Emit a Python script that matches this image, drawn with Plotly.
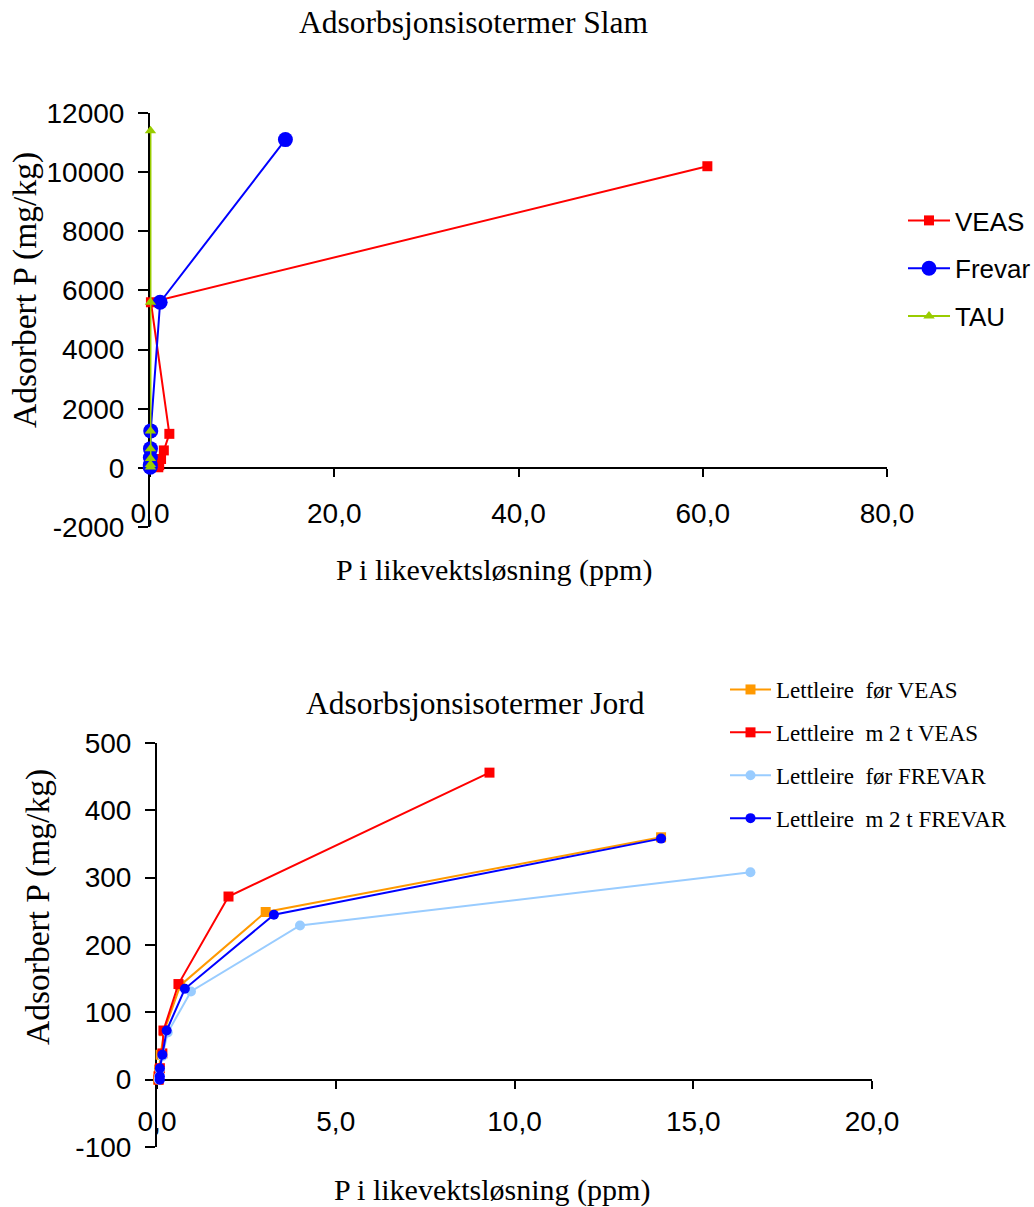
import plotly.graph_objects as go

# ---------------- Data: Slam (sludge) ----------------
veas_x = [0.9, 1.0, 1.2, 1.5, 2.1, 0.1, 60.5]
veas_y = [20, 90, 300, 590, 1150, 5600, 10200]
frevar_x = [0.02, 0.03, 0.04, 0.05, 0.08, 1.1, 14.7]
frevar_y = [20, 100, 350, 650, 1250, 5600, 11100]
tau_x = [0.05, 0.05, 0.05, 0.05, 0.05, 0.05, 0.05]
tau_y = [30, 110, 320, 650, 1250, 5600, 11400]

slam_xticks = [0, 20, 40, 60, 80]
slam_xlabels = ["0,0", "20,0", "40,0", "60,0", "80,0"]
slam_yticks = [-2000, 0, 2000, 4000, 6000, 8000, 10000, 12000]
slam_ylabels = ["-2000", "0", "2000", "4000", "6000", "8000", "10000", "12000"]

# ---------------- Data: Jord (soil) ----------------
for_veas_x = [0.03, 0.04, 0.06, 0.10, 0.20, 0.65, 3.04, 14.1]
for_veas_y = [0, 5, 15, 37, 72, 140, 249, 360]
m2t_veas_x = [0.05, 0.05, 0.08, 0.15, 0.18, 0.60, 2.0, 9.3]
m2t_veas_y = [0, 5, 17, 39, 73, 142, 272, 456]
for_frevar_x = [0.05, 0.06, 0.08, 0.15, 0.30, 0.95, 4.0, 16.6]
for_frevar_y = [0, 5, 15, 35, 70, 131, 229, 308]
m2t_frevar_x = [0.08, 0.08, 0.08, 0.15, 0.27, 0.78, 3.27, 14.1]
m2t_frevar_y = [0, 5, 17, 37, 73, 135, 245, 358]

jord_xticks = [0, 5, 10, 15, 20]
jord_xlabels = ["0,0", "5,0", "10,0", "15,0", "20,0"]
jord_yticks = [-100, 0, 100, 200, 300, 400, 500]
jord_ylabels = ["-100", "0", "100", "200", "300", "400", "500"]

W, H = 1034, 1207
SANS = "Liberation Sans, Arial, sans-serif"
SERIF = "Liberation Serif, Times New Roman, serif"

def py(px):
    return 1 - px / H

def pxx(px):
    return px / W

fig = go.Figure()

LW = 2

# Top chart traces
fig.add_trace(go.Scatter(x=veas_x, y=veas_y, name="VEAS", mode="lines+markers",
                         line=dict(color="#FF0000", width=LW),
                         marker=dict(symbol="square", size=10, color="#FF0000"),
                         cliponaxis=False, xaxis="x", yaxis="y",
                         legend="legend", legendgroup="a"))
fig.add_trace(go.Scatter(x=frevar_x, y=frevar_y, name="Frevar", mode="lines+markers",
                         line=dict(color="#0000FF", width=LW),
                         marker=dict(symbol="circle", size=15, color="#0000FF"),
                         cliponaxis=False, xaxis="x", yaxis="y",
                         legend="legend", legendgroup="b"))
fig.add_trace(go.Scatter(x=tau_x, y=tau_y, name="TAU", mode="lines+markers",
                         line=dict(color="#99CC00", width=LW),
                         marker=dict(symbol="triangle-up", size=10, color="#99CC00"),
                         cliponaxis=False, xaxis="x", yaxis="y",
                         legend="legend", legendgroup="c"))

# Bottom chart traces
fig.add_trace(go.Scatter(x=for_veas_x, y=for_veas_y, name="Lettleire  før VEAS", mode="lines+markers",
                         line=dict(color="#FF9900", width=LW),
                         marker=dict(symbol="square", size=10, color="#FF9900"),
                         cliponaxis=False, xaxis="x2", yaxis="y2",
                         legend="legend2", legendgroup="d"))
fig.add_trace(go.Scatter(x=m2t_veas_x, y=m2t_veas_y, name="Lettleire  m 2 t VEAS", mode="lines+markers",
                         line=dict(color="#FF0000", width=LW),
                         marker=dict(symbol="square", size=10, color="#FF0000"),
                         cliponaxis=False, xaxis="x2", yaxis="y2",
                         legend="legend2", legendgroup="e"))
fig.add_trace(go.Scatter(x=for_frevar_x, y=for_frevar_y, name="Lettleire  før FREVAR", mode="lines+markers",
                         line=dict(color="#99CCFF", width=LW),
                         marker=dict(symbol="circle", size=10, color="#99CCFF"),
                         cliponaxis=False, xaxis="x2", yaxis="y2",
                         legend="legend2", legendgroup="f"))
fig.add_trace(go.Scatter(x=m2t_frevar_x, y=m2t_frevar_y, name="Lettleire  m 2 t FREVAR", mode="lines+markers",
                         line=dict(color="#0000FF", width=LW),
                         marker=dict(symbol="circle", size=10, color="#0000FF"),
                         cliponaxis=False, xaxis="x2", yaxis="y2",
                         legend="legend2", legendgroup="g"))

tickfont = dict(family=SANS, size=28, color="black")

common_x = dict(showgrid=False, zeroline=False, showline=True, linecolor="black", linewidth=2,
                ticks="outside", ticklen=8, tickwidth=1.5, tickcolor="black", automargin=False,
                tickfont=tickfont, layer="below traces", fixedrange=True)
common_y = dict(showgrid=False, zeroline=False, showline=True, linecolor="black", linewidth=2,
                ticks="outside", ticklen=10, tickwidth=1.5, tickcolor="black", automargin=False,
                tickfont=tickfont, layer="below traces", ticklabelstandoff=8)

fig.update_layout(
    width=W, height=H, autosize=False,
    margin=dict(l=0, r=0, t=0, b=0, pad=0, autoexpand=False),
    paper_bgcolor="white", plot_bgcolor="white",
    separators=", ",
    xaxis=dict(domain=[pxx(150), pxx(887)], range=[0, 80], tickvals=slam_xticks, ticktext=slam_xlabels,
               anchor="free", position=py(468), ticklabelstandoff=12, **common_x),
    yaxis=dict(domain=[py(527), py(113)], range=[-2000, 12000], tickvals=slam_yticks, ticktext=slam_ylabels,
               anchor="x", **common_y),
    xaxis2=dict(domain=[pxx(157), pxx(872)], range=[0, 20], tickvals=jord_xticks, ticktext=jord_xlabels,
                anchor="free", position=py(1080), ticklabelstandoff=8, **common_x),
    yaxis2=dict(domain=[py(1147), py(743)], range=[-100, 500], tickvals=jord_yticks, ticktext=jord_ylabels,
                anchor="x2", **common_y),
    legend=dict(x=pxx(903), y=py(197), xanchor="left", yanchor="top",
                font=dict(family=SANS, size=26, color="black"),
                traceorder="grouped", tracegroupgap=11, bgcolor="rgba(0,0,0,0)", itemwidth=42),
    legend2=dict(x=pxx(725), y=py(668), xanchor="left", yanchor="top",
                 font=dict(family=SERIF, size=23, color="black"),
                 traceorder="grouped", tracegroupgap=10, bgcolor="rgba(0,0,0,0)", itemwidth=41),
    showlegend=True,
)

titlefont = dict(family=SERIF, size=31.5, color="black")
axfont = dict(family=SERIF, size=30, color="black")
yaxfont = dict(family=SERIF, size=33.5, color="black")

annotations = [
    dict(text="Adsorbsjonsisotermer Slam", x=pxx(474), y=py(22), font=titlefont),
    dict(text="P i likevektsløsning (ppm)", x=pxx(494), y=py(570), font=axfont),
    dict(text="Adsorbert P (mg/kg)", x=pxx(25), y=py(290), font=yaxfont, textangle=-90),
    dict(text="Adsorbsjonsisotermer Jord", x=pxx(475), y=py(703), font=titlefont),
    dict(text="P i likevektsløsning (ppm)", x=pxx(492), y=py(1190), font=axfont),
    dict(text="Adsorbert P (mg/kg)", x=pxx(38), y=py(907), font=yaxfont, textangle=-90),
]
for a in annotations:
    a.update(xref="paper", yref="paper", xanchor="center", yanchor="middle", showarrow=False)
fig.update_layout(annotations=annotations)

fig.write_html("out.html")
